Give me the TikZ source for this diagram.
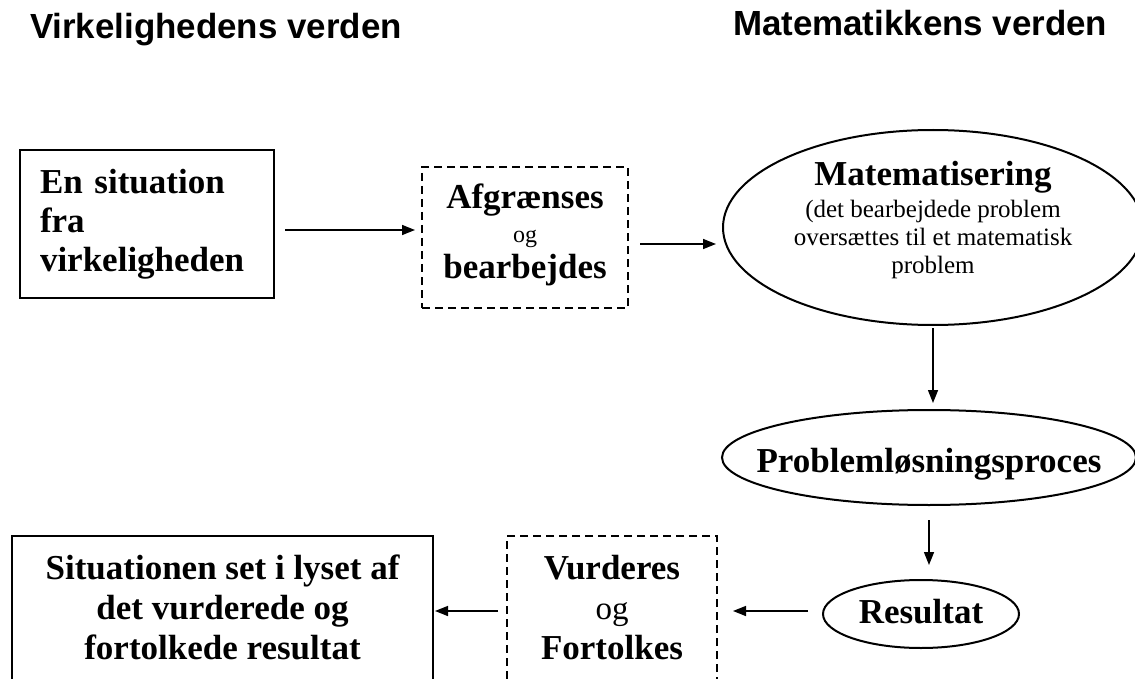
\documentclass[tikz,border=0pt]{standalone}
\usepackage{fontspec}
\setmainfont{Liberation Serif}
\newfontfamily\titlefont{Liberation Sans}
\usetikzlibrary{shapes.geometric,arrows.meta}
\begin{document}
\begin{tikzpicture}[x=1pt,y=-1pt,
  every node/.style={outer sep=0pt},
  solidbox/.style={draw, line width=2pt, rectangle, inner sep=0pt},
  dashbox/.style={draw, line width=2pt, dash pattern=on 8pt off 5pt, rectangle, inner sep=0pt},
  ellip/.style={draw, line width=2pt, ellipse, inner sep=0pt},
  arr/.style={line width=1.5pt, -{Triangle[length=13pt,width=10pt]}},
  titletext/.style={font=\titlefont\bfseries\fontsize{34.9}{40}\selectfont, anchor=base west, inner sep=0pt},
  boldtext/.style={font=\fontsize{35}{40}\selectfont\bfseries}
]
\useasboundingbox (0,0) rectangle (1135,679);
\clip (0,0) rectangle (1135,679);
\fill[white] (0,0) rectangle (1135,679);

\node[titletext] (t1) at (30,39) {Virkelighedens verden};
\node[titletext] (t2) at (733,36) {Matematikkens verden};

\node[solidbox, minimum width=254pt, minimum height=148pt, text width=214pt, align=left,
      font=\fontsize{35}{39}\selectfont\bfseries] (b1) at (147,224)
      {En situation\\fra\\virkeligheden};

\node[dashbox, minimum width=206pt, minimum height=141pt, align=center, boldtext] (b2) at (525,237.5)
      {Afgrænses\\[-6pt]{\fontsize{24}{28}\selectfont\mdseries og}\\[-4pt]bearbejdes\rule[-13pt]{0pt}{0pt}};

\node[ellip, minimum width=420pt, minimum height=195pt, align=center,
      font=\fontsize{25}{28}\selectfont] (e1) at (933,227.5)
      {{\fontsize{35}{40}\selectfont\bfseries Matematisering}\\[4pt](det bearbejdede problem\\oversættes til et matematisk\\problem\rule[-21pt]{0pt}{0pt}};

\node[ellip, minimum width=414pt, minimum height=95pt, inner xsep=-30pt, boldtext] (e2) at (929,457.5)
      {\rule{0pt}{38.6pt}Problemløsningsproces};

\node[ellip, minimum width=196pt, minimum height=68pt, boldtext] (r) at (921,614)
      {Resultat\rule[-6pt]{0pt}{0pt}};

\node[dashbox, minimum width=210pt, minimum height=173pt, align=center, boldtext] (b4) at (612,622.5)
      {Vurderes\\{\fontsize{33}{36}\selectfont\mdseries og}\\Fortolkes\rule[-31pt]{0pt}{0pt}};

\node[solidbox, minimum width=421pt, minimum height=173pt, align=center, boldtext] (b3) at (222.5,622.5)
      {Situationen set i lyset af\\det vurderede og\\fortolkede resultat\rule[-31pt]{0pt}{0pt}};

\coordinate (y1) at (0,230);
\coordinate (y2) at (0,244);
\coordinate (y5) at (0,611);

\draw[arr, shorten <=11pt, shorten >=7pt] (b1.east |- y1) -- (b2.west |- y1);
\draw[arr, shorten <=12pt, shorten >=7pt] (b2.east |- y2) -- (e1.west |- y2);
\draw[arr, shorten <=3pt, shorten >=7pt] (e1.south) -- (e1.south |- e2.north);
\draw[arr, shorten <=15pt, shorten >=15pt] (e2.south) -- (e2.south |- r.north);
\draw[arr, shorten <=15pt, shorten >=16pt] (r.west |- y5) -- (b4.east |- y5);
\draw[arr, shorten <=9pt, shorten >=2pt] (b4.west |- y5) -- (b3.east |- y5);
\end{tikzpicture}
\end{document}
